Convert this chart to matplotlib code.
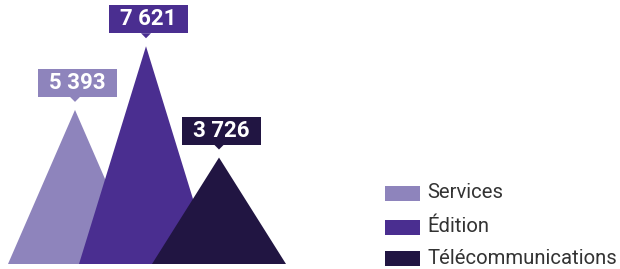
import matplotlib
matplotlib.use("Agg")
import matplotlib.pyplot as plt
from matplotlib.patches import Polygon, Rectangle

plt.rcParams['font.family'] = ['Roboto', 'DejaVu Sans']

categories = ['Services', 'Édition', 'Télécommunications']
values = [5393, 7621, 3726]
labels = ['5 393', '7 621', '3 726']
colors = ['#8e84bc', '#4a2e90', '#211542']
centers = [75, 146, 219]   # x position of apex (px)

fig = plt.figure(figsize=(6.2, 2.69), dpi=100)
ax = fig.add_axes([0, 0, 1, 1])
k = 35.0   # data units per pixel, vertically
ax.set_xlim(0, 620)
ax.set_ylim(-5 * k, 264 * k)
ax.axis('off')

half = 67
for c, v, col, lab in zip(centers, values, colors, labels):
    ax.add_patch(Polygon([(c - half, 0), (c, v), (c + half, 0)], closed=True,
                         facecolor=col, edgecolor='none'))
    # label box with pointer
    tip = v + 8 * k
    bot = v + 13 * k
    bx = c + 2
    ax.add_patch(Rectangle((bx - 39.5, bot), 79, 28 * k, facecolor=col, edgecolor='none'))
    ax.add_patch(Polygon([(c - 5, bot + 1), (c, tip), (c + 5, bot + 1)], closed=True,
                         facecolor=col, edgecolor='none'))
    ax.text(bx, bot + 14 * k, lab, ha='center', va='center', color='white',
            fontsize=16, fontweight='bold')

# legend
leg_y = [193, 227, 258]
for name, col, yy in zip(categories, colors, leg_y):
    ycen = (264 - yy) * k
    ax.add_patch(Rectangle((385, ycen - 7.5 * k), 35, 15 * k, facecolor=col, edgecolor='none'))
    ax.text(427, ycen, name, ha='left', va='center', color='#333333', fontsize=14.6)

fig.savefig('out.png', dpi=100)
